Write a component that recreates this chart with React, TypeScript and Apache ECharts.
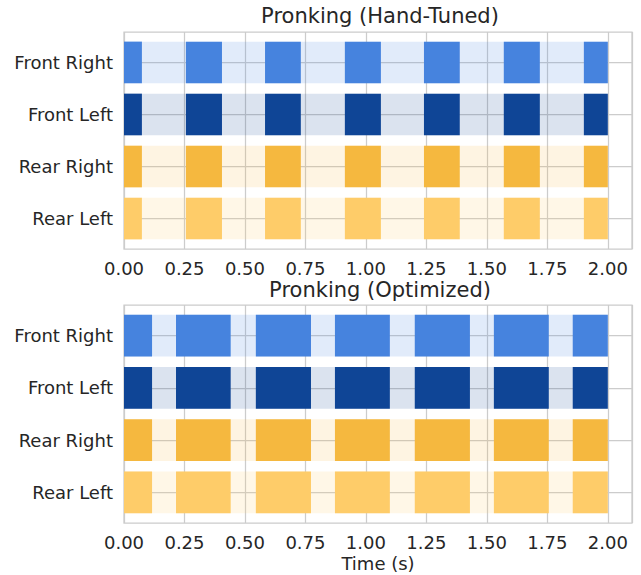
import React, { useEffect, useRef } from 'react';
import * as echarts from 'echarts';

// ---- data ----
const legs = ['Front Right', 'Front Left', 'Rear Right', 'Rear Left'];
const legColors = ['#4683de', '#0f4596', '#f5b83f', '#fecc69'];
const bandColors = [
  'rgba(70,131,222,0.16)',
  'rgba(15,69,150,0.15)',
  'rgba(245,184,63,0.15)',
  'rgba(254,204,105,0.16)',
];
const plotTitles = ['Pronking (Hand-Tuned)', 'Pronking (Optimized)'];
const gaitDuration = 2.0;
// stance intervals [start, end] in seconds (all four legs together: pronking)
const handTunedStance = [
  [0.0, 0.074], [0.256, 0.405], [0.583, 0.731], [0.913, 1.062],
  [1.24, 1.388], [1.57, 1.719], [1.901, 2.0],
];
const optimizedStance = [
  [0.0, 0.116], [0.215, 0.441], [0.545, 0.773], [0.872, 1.099],
  [1.202, 1.43], [1.529, 1.756], [1.855, 2.0],
];
const stanceSets = [handTunedStance, optimizedStance];
const rowIndices = [0, 1, 2, 3];

const FONT = 'DejaVu Sans';
const TEXT = '#262626';
const GRIDC = '#cccccc';
const LABEL_SIZE = 18;

export default function App() {
  const ref = useRef<HTMLDivElement>(null);
  useEffect(() => {
    document.body.style.margin = '0';
    const chart = echarts.init(ref.current!, undefined, { renderer: 'svg' });
    const grids = [
      { left: 124, top: 32, width: 508, height: 217 },
      { left: 124, top: 305, width: 508, height: 218 },
    ];
    const xAxes = grids.map((_, i) => ({
      type: 'value',
      gridIndex: i,
      min: 0,
      max: 2.1,
      interval: 0.25,
      axisLine: { show: false },
      axisTick: { show: false },
      axisLabel: {
        color: TEXT,
        fontSize: LABEL_SIZE,
        fontFamily: FONT,
        margin: 10,
        formatter: (v: number) => (v > 2.01 ? '' : v.toFixed(2)),
      },
      splitLine: { show: true, lineStyle: { color: GRIDC, width: 1.25 } },
      name: i === 1 ? 'Time (s)' : '',
      nameLocation: 'middle',
      nameGap: 31,
      nameTextStyle: { color: TEXT, fontSize: LABEL_SIZE, fontFamily: FONT },
    }));
    const yAxes = grids.map((_, i) => ({
      type: 'value',
      gridIndex: i,
      min: -0.585,
      max: 3.585,
      inverse: true,
      axisLine: { show: false },
      axisTick: { show: false, customValues: rowIndices },
      axisLabel: {
        customValues: rowIndices,
        color: TEXT,
        fontSize: LABEL_SIZE,
        fontFamily: FONT,
        margin: 11,
        formatter: (v: number) => legs[Math.round(v)] ?? '',
      },
      splitLine: { show: true, lineStyle: { color: GRIDC, width: 1.25 } },
    }));

    const rectRender = (colors: string[]) => (params: any, api: any) => {
      const row = api.value(0);
      const s = api.value(1);
      const e = api.value(2);
      const p0 = api.coord([s, row]);
      const p1 = api.coord([e, row]);
      const h = api.size([0, 0.8])[1];
      return {
        type: 'rect',
        shape: { x: p0[0], y: p0[1] - h / 2, width: p1[0] - p0[0], height: h },
        style: { fill: colors[row] },
      };
    };

    const series: any[] = [];
    stanceSets.forEach((stance, i) => {
      series.push({
        type: 'custom',
        xAxisIndex: i,
        yAxisIndex: i,
        z: 1,
        silent: true,
        renderItem: rectRender(bandColors),
        encode: { x: [1, 2], y: 0 },
        data: rowIndices.map((r) => [r, 0, gaitDuration]),
      });
      const bars: number[][] = [];
      rowIndices.forEach((r) => stance.forEach(([s, e]) => bars.push([r, s, e])));
      series.push({
        type: 'custom',
        xAxisIndex: i,
        yAxisIndex: i,
        z: 2,
        silent: true,
        renderItem: rectRender(legColors),
        encode: { x: [1, 2], y: 0 },
        data: bars,
      });
    });

    chart.setOption({
      animation: false,
      backgroundColor: '#ffffff',
      title: plotTitles.map((t, i) => ({
        text: t,
        left: 380,
        top: i === 0 ? 5 : 279,
        textAlign: 'center',
        padding: 0,
        textStyle: { color: TEXT, fontSize: 21, fontWeight: 'normal', fontFamily: FONT },
      })),
      grid: grids.map((g) => ({
        ...g,
        show: true,
        borderColor: GRIDC,
        borderWidth: 1.25,
        backgroundColor: 'transparent',
      })),
      xAxis: xAxes,
      yAxis: yAxes,
      series,
    });
    return () => chart.dispose();
  }, []);
  return <div ref={ref} style={{ width: 641, height: 575 }} />;
}
